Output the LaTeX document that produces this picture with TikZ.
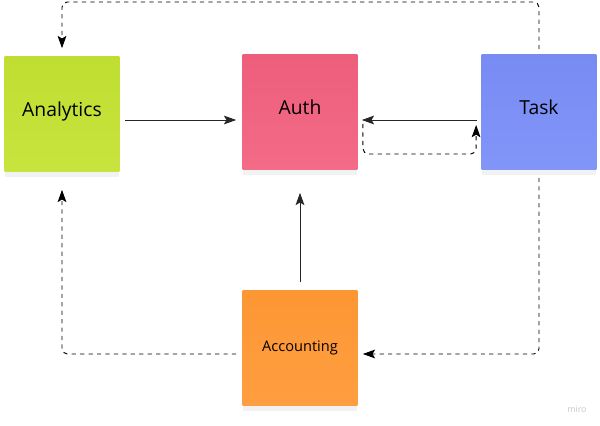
\documentclass[tikz,border=0pt]{standalone}
\usepackage{fontspec}
\setmainfont{Open Sans}
\usetikzlibrary{arrows.meta,calc,shadows}

\definecolor{limenote}{RGB}{196,226,50}
\definecolor{pinknote}{RGB}{242,96,126}
\definecolor{bluenote}{RGB}{122,142,248}
\definecolor{orangenote}{RGB}{255,152,52}

\tikzset{
    note/.style={minimum width=2.3cm, minimum height=2.3cm, inner sep=0pt,
        text depth=5pt, font=\fontsize{11}{13}\selectfont,
        drop shadow={opacity=0.10, shadow xshift=0pt, shadow yshift=-3pt}},
    flow/.style={->, line width=0.55pt, black!85},
    dflow/.style={flow, black, dashed, dash pattern=on 2.4pt off 2.4pt, rounded corners=3pt}
}

\begin{document}
\begin{tikzpicture}[x=0.02cm, y=-0.02cm, >={Stealth[length=7pt, width=5pt, inset=1.5pt]}]
    \useasboundingbox (0,0) rectangle (600,426);

    \node[note, top color=limenote!98!black, bottom color=limenote!94!white] (analytics) at (62,114) {Analytics};
    \node[note, top color=pinknote!98!black, bottom color=pinknote!93!white] (auth) at (300,112) {Auth};
    \node[note, top color=bluenote!98!black, bottom color=bluenote!94!white] (task) at (539,112) {Task};
    \node[note, text depth=2pt, font=\fontsize{8.3}{10}\selectfont,
        top color=orangenote!99!black, bottom color=orangenote!94!white] (accounting) at (300,348) {Accounting};

    % corners of the dashed paths
    \coordinate (loopL) at (363,154);
    \coordinate (loopR) at (476,154);
    \coordinate (topR) at (539,2);
    \coordinate (topL) at (62,2);
    \coordinate (botR) at (539,354);
    \coordinate (botL) at (62,354);

    \draw[flow] ($(analytics.east)+(5,6)$) -- ($(auth.west)+(-6,8)$);
    \draw[flow] ($(task.west)+(-4,8)$) -- ($(auth.east)+(4,8)$);
    \draw[flow] ($(accounting.north)+(0,-8)$) -- ($(auth.south)+(0,23)$);

    \draw[dflow] ($(auth.east)+(5,12)$) -- (loopL) -- (loopR) -- ($(task.west)+(-5,13)$);
    \draw[dflow] ($(task.north)+(0,-5)$) -- (topR) -- (topL) -- ($(analytics.north)+(0,-8)$);
    \draw[dflow] ($(task.south)+(0,8)$) -- (botR) -- ($(accounting.east)+(5,6)$);
    \draw[dflow] ($(accounting.west)+(-6,6)$) -- (botL) -- ($(analytics.south)+(0,18)$);

    \node[text=black!22, font=\fontsize{5}{6}\selectfont] (miro) at (577,409) {miro};
\end{tikzpicture}
\end{document}
